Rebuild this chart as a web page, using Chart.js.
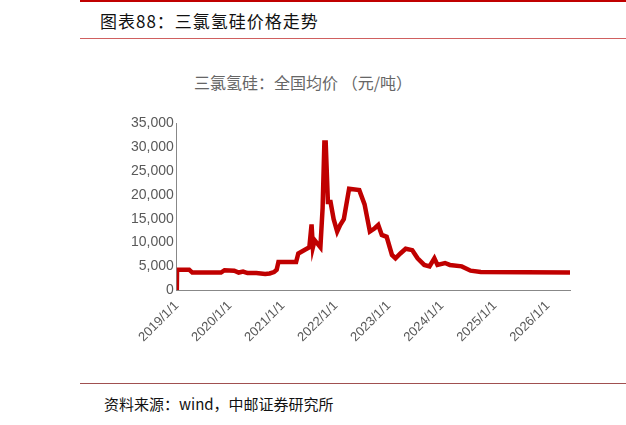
<!DOCTYPE html>
<html><head><meta charset="utf-8">
<script src="https://cdn.jsdelivr.net/npm/chart.js@4"></script>
<style>
body{margin:0;width:626px;height:425px;background:#fff;position:relative;overflow:hidden;font-family:"Noto Sans CJK SC",sans-serif}
#top{position:absolute;left:80px;top:0;width:546px;height:2px;background:#c00000}
#t{position:absolute;left:100px;top:8px;font-size:17px;color:#111;letter-spacing:1px}
#l1{position:absolute;left:80px;top:38px;width:546px;height:1px;background:#d06060}
#ct{position:absolute;left:-10px;width:626px;top:70px;text-align:center;font-size:16px;color:#666}
#l2{position:absolute;left:80px;top:383px;width:546px;height:1px;background:#a05050}
#src{position:absolute;left:104px;top:393px;font-size:15px;color:#111}
#c{position:absolute;left:128px;top:112px;width:452px;height:236px}
</style></head><body>
<div id="top"></div><div id="t">图表88：三氯氢硅价格走势</div><div id="l1"></div>
<div id="ct">三氯氢硅：全国均价 （元/吨）</div>
<div id="c"><canvas id="cv"></canvas></div>
<div id="l2"></div><div id="src">资料来源：wind，中邮证券研究所</div>
<script>
const tickLabels=["2019/1/1","2020/1/1","2021/1/1","2022/1/1","2023/1/1","2024/1/1","2025/1/1","2026/1/1"];
const months=[0,0.05,2.8,3.5,10,10.8,13,14,15,16,18,19,20,21,22,22.6,23,27,27.5,29,30,30.5,30.8,31.2,32.5,33,33.4,33.7,34.2,34.8,35.5,36.3,37,37.8,39,41.3,42.5,43.7,44.8,45.6,46.4,47.5,48.7,49.5,50.6,51.8,53.3,54.5,56,57.2,58.3,59,60.7,61.8,64.5,66.5,68.8,89];
const values=[0,4300,4300,3700,3700,4200,4100,3700,3900,3600,3600,3500,3400,3500,3800,4300,5900,5900,7700,8500,9000,13800,9000,10500,9000,17200,31000,31000,18500,18500,14900,12300,13700,14900,21300,21000,18000,12300,13000,13700,11600,11200,7400,6700,7700,8700,8400,6700,5300,5000,6700,5300,5700,5300,5000,4100,3800,3700];
new Chart(document.getElementById('cv'),{type:'line',
data:{datasets:[{data:months.map((m,i)=>({x:m,y:values[i]})),borderColor:'#c00000',borderWidth:4.5,pointRadius:0,tension:0}]},
options:{responsive:true,maintainAspectRatio:false,animation:false,plugins:{legend:{display:false},tooltip:{enabled:false}},
layout:{padding:{right:10}},
scales:{x:{type:'linear',min:0,max:89,grid:{display:false,drawTicks:true,tickLength:5,tickColor:'#888'},border:{color:'#888'},
ticks:{stepSize:12,autoSkip:false,maxRotation:45,minRotation:45,color:'#595959',font:{size:13,family:'Liberation Sans'},callback:v=>tickLabels[v/12]}},
y:{min:0,max:35000,grid:{display:false,tickLength:0},border:{color:'#888'},ticks:{stepSize:5000,color:'#595959',font:{size:14,family:'Liberation Sans'},callback:v=>v.toLocaleString('en-US')}}}}});
</script></body></html>
